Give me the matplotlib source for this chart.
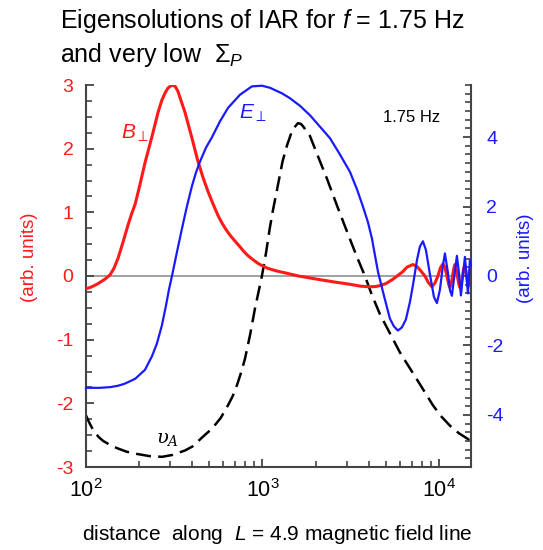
import matplotlib
matplotlib.use("Agg")
import matplotlib.pyplot as plt
from matplotlib.ticker import MultipleLocator, LogLocator

plt.rcParams['font.family'] = ['Liberation Sans', 'DejaVu Sans']
plt.rcParams['mathtext.fontset'] = 'custom'
plt.rcParams['mathtext.rm'] = 'Liberation Sans'
plt.rcParams['mathtext.it'] = 'Liberation Sans:italic'
plt.rcParams['mathtext.bf'] = 'Liberation Sans:bold'
plt.rcParams['mathtext.fallback'] = 'stixsans'
plt.rcParams['axes.unicode_minus'] = False

# ---- data ----
b_x = [100, 108, 117, 128, 137, 144, 152, 162, 173, 181, 190, 202, 216, 237, 256, 269, 280, 291,
       307, 320, 332, 345, 364, 399, 431, 460, 491, 525, 560, 590, 621, 660, 698, 740, 776,
       820, 871, 920, 967, 1072, 1200, 1340, 1600, 2036, 2500, 3131, 3600, 4064, 4400, 4630,
       5000, 5488, 5800, 6252, 6600, 7128, 7500, 7900, 8331, 8700, 9126, 9500, 9870, 10200,
       10540, 10800, 11100, 11350, 11540, 11750, 11950, 12150, 12320, 12500, 12720, 12950,
       13150, 13380, 13600, 13820, 14030, 14200, 14350, 14480, 14590, 14750, 14900, 15050, 15180]
b_y = [-0.2, -0.17, -0.12, -0.05, 0.02, 0.12, 0.28, 0.53, 0.8, 0.97, 1.13, 1.43, 1.78, 2.2, 2.57, 2.76, 2.87, 2.95,
       3.0, 2.98, 2.9, 2.76, 2.57, 2.16, 1.8, 1.55, 1.33, 1.13, 0.95, 0.83, 0.73, 0.63, 0.55, 0.47, 0.4,
       0.33, 0.27, 0.22, 0.18, 0.12, 0.08, 0.05, 0.0, -0.05, -0.09, -0.13, -0.16, -0.17, -0.165, -0.15,
       -0.12, -0.05, 0.0, 0.07, 0.14, 0.18, 0.15, 0.08, 0.0, -0.1, -0.17, -0.11, 0.0, 0.13,
       0.19, 0.14, 0.0, -0.13, -0.18, -0.11, 0.0, 0.12, 0.18, 0.12, 0.0, -0.12,
       -0.18, -0.1, 0.0, 0.12, 0.17, 0.08, 0.0, -0.1, -0.17, -0.1, 0.0, 0.1, 0.14]

e_x = [100, 120, 137, 152, 166, 190, 216, 237, 252, 269, 284, 295, 307, 328, 350, 373,
       399, 420, 443, 479, 518, 574, 638, 746, 871, 994, 1103, 1290, 1431, 1632, 1858,
       2118, 2412, 2748, 3132, 3431, 3711, 3961, 4173, 4340, 4513, 4816, 5075, 5277,
       5559, 5857, 6171, 6501, 6849, 7123, 7505, 7804, 8117, 8440, 8892, 9369, 9742,
       10130, 10535, 10815, 11246, 11541, 11847, 12162, 12647, 12982, 13325, 13677,
       14039, 14410, 14600, 14985, 15180]
e_y = [-3.22, -3.22, -3.2, -3.16, -3.1, -2.96, -2.7, -2.3, -1.95, -1.43, -0.85, -0.4, 0.0, 0.7, 1.37, 2.0,
       2.6, 2.98, 3.3, 3.7, 4.0, 4.45, 4.84, 5.22, 5.46, 5.48, 5.42, 5.26, 5.12, 4.9, 4.63,
       4.3, 3.97, 3.5, 3.0, 2.5, 2.0, 1.55, 1.08, 0.6, 0.13, -0.45, -0.9, -1.23,
       -1.45, -1.57, -1.48, -1.25, -0.75, -0.27, 0.45, 0.85, 1.0, 0.75, 0.05, -0.6, -0.78,
       -0.4, 0.3, 0.65, 0.1, -0.4, -0.57, -0.1, 0.58, 0.1, -0.56, 0.0,
       0.55, -0.1, -0.5, 0.45, 0.3]

v_x = [100, 103, 106, 109, 112, 118, 125, 140, 152, 170, 190, 230, 270, 310, 364, 400,
       430, 470, 517, 580, 638, 680, 720, 760, 796, 850, 907, 950, 993, 1050, 1100, 1150,
       1208, 1300, 1377, 1480, 1589, 1650, 1700, 1858, 2050, 2319, 2650, 3012, 3431,
       3808, 4173, 4632, 5277, 6012, 6849, 7804, 9247, 10264, 11541, 12982, 14600, 15180]
v_y = [-2.19, -2.27, -2.34, -2.4, -2.45, -2.53, -2.59, -2.67, -2.71, -2.76, -2.79, -2.83, -2.84, -2.81, -2.74, -2.68,
       -2.6, -2.5, -2.4, -2.23, -2.03, -1.88, -1.7, -1.5, -1.3, -0.93, -0.51, -0.25, 0.0, 0.38, 0.75, 1.05,
       1.35, 1.8, 2.05, 2.3, 2.4, 2.39, 2.35, 2.2, 1.9, 1.53, 1.1, 0.7, 0.3,
       0.0, -0.3, -0.6, -0.9, -1.2, -1.45, -1.7, -2.03, -2.2, -2.35, -2.47, -2.56, -2.6]

left_ticks = [-3, -2, -1, 0, 1, 2, 3]
right_ticks = [-4, -2, 0, 2, 4]

fig = plt.figure(figsize=(5.43, 5.5), dpi=100)
ax = fig.add_axes([86/543, 83/550, 385/543, 382/550])
ax2 = ax.twinx()

spc = '#444444'
ax.axhline(0, color='#9a9a9a', lw=1.3, zorder=1)
ax.plot(v_x, v_y, color='black', lw=1.8, dashes=(6.0, 2.9), zorder=2)
ax.plot(b_x, b_y, color='#ff1a1a', lw=2.2, zorder=3, solid_joinstyle='round')
ax2.plot(e_x, e_y, color='#1a1aff', lw=1.6, zorder=3, clip_on=False, solid_joinstyle='round')

ax.set_xscale('log')
ax.set_xlim(100, 15200)
ax.set_ylim(-3, 3)
ax2.set_ylim(-5.5, 5.5)

ax.set_yticks(left_ticks)
ax.yaxis.set_minor_locator(MultipleLocator(0.25))
ax2.set_yticks(right_ticks)
ax2.yaxis.set_minor_locator(MultipleLocator(0.25))
ax.xaxis.set_major_locator(LogLocator(base=10))
ax.xaxis.set_minor_locator(LogLocator(base=10, subs=range(2, 10)))

for a in (ax, ax2):
    a.spines['top'].set_visible(False)
    for s in a.spines.values():
        s.set_color(spc)
        s.set_linewidth(1.5)
ax.spines['right'].set_visible(False)
ax2.spines['left'].set_visible(False)
ax2.spines['bottom'].set_visible(False)

ax.tick_params(axis='y', which='major', direction='in', length=6, width=1.3, color=spc,
               labelcolor='#ff1a1a', labelsize=14, pad=9)
ax.tick_params(axis='y', which='minor', direction='in', length=4, width=1.2, color=spc)
ax.tick_params(axis='x', which='major', direction='in', length=6, width=1.3, color=spc,
               labelsize=15.5, pad=9)
ax.tick_params(axis='x', which='minor', direction='in', length=4, width=1.2, color=spc)
ax2.tick_params(axis='y', which='major', direction='in', length=6, width=1.3, color=spc,
                labelcolor='#1a1aff', labelsize=14, pad=11)
ax2.tick_params(axis='y', which='minor', direction='in', length=4, width=1.2, color=spc)

fig.text(60/543, 1 - 28/550, r"Eigensolutions of IAR for $f$ = 1.75 Hz", fontsize=18,
         ha='left', va='baseline')
fig.text(60/543, 1 - 62/550, r"and very low  $\Sigma_P$", fontsize=18,
         ha='left', va='baseline')

fig.text(30/543, 1 - 257/550, "(arb. units)", color='#ff1a1a', fontsize=13.5,
         rotation=90, ha='center', va='center')
fig.text(525/543, 1 - 258/550, "(arb. units)", color='#1a1aff', fontsize=13.5,
         rotation=90, ha='center', va='center')
fig.text(277/543, 1 - 540/550, r"distance  along  $L$ = 4.9 magnetic field line",
         fontsize=15, ha='center', va='baseline')

fig.text(412/543, 1 - 117/550, "1.75 Hz", fontsize=12, ha='center', va='center')
fig.text(135/543, 1 - 133/550, r"$B_\perp$", color='#ff1a1a', fontsize=15,
         ha='center', va='center')
fig.text(253/543, 1 - 113/550, r"$E_\perp$", color='#1a1aff', fontsize=15,
         ha='center', va='center')
fig.text(168/543, 1 - 439/550, r"$\upsilon_A$", fontsize=14, ha='center', va='center',
         math_fontfamily='dejavuserif')

fig.savefig("out.png", dpi=100)
